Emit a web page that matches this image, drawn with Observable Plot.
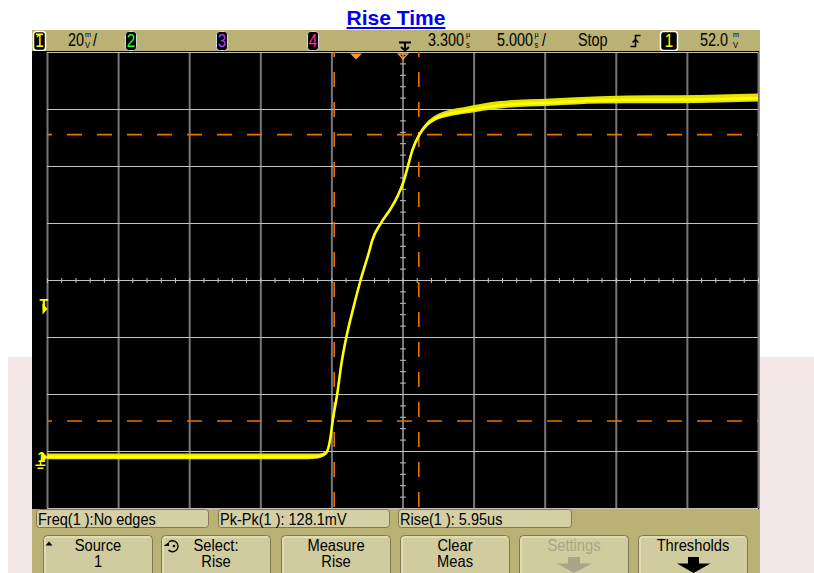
<!DOCTYPE html>
<html><head><meta charset="utf-8">
<script src="https://cdn.jsdelivr.net/npm/d3@7"></script>
<script src="https://cdn.jsdelivr.net/npm/@observablehq/plot@0.6"></script>
<style>
html,body{margin:0;padding:0;background:#fff;}
#page{position:relative;width:814px;height:573px;overflow:hidden;font-family:"Liberation Sans",Arial,sans-serif;}
#pink{position:absolute;left:8px;top:357px;width:806px;height:216px;background:#f4e8e8;}
#chrome{position:absolute;left:0;top:0;}
#plot{position:absolute;left:32px;top:51px;line-height:0;}
#title{position:absolute;left:0;width:792px;top:6px;text-align:center;font:bold 21px "Liberation Sans",Arial,sans-serif;line-height:normal;color:#0000ee;text-decoration:underline;}
</style></head>
<body><div id="page"><div id="pink"></div><svg id="chrome" width="814" height="573"></svg><div id="plot"></div><div id="title">Rise Time</div></div>
<script>
// ---- data ----
const timeUs  = [-21.7, -15, -8, -4, -2.8, -2.36, -2.08, -1.94, -1.80, -1.64, -1.33, -1.05, -0.69, -0.2, 0.31, 0.94, 1.13, 1.72, 2.42, 2.93, 3.36, 3.64, 3.95, 4.46, 4.95, 5.59, 6.64, 7.77, 10.16, 13.7, 17.2, 21, 24.2, 28.3];
const voltMv  = [0.1, 0.1, 0.1, 0.1, 0.2, 0.6, 1.65, 3.4, 6.9, 12.9, 22, 32.2, 42, 52.2, 62, 72.5, 76, 81.9, 87.1, 91.7, 97, 102, 107.6, 113.2, 116.4, 118.8, 120.6, 121.6, 123.5, 124.4, 125.2, 125.4, 125.5, 126.0];
const noiseMv = [1,1,1,1,0.9,0.7,0.4,0.3,0.2, 0.15,0.15,0.15,0.15,0.15,0.15,0.15,0.15,0.15,0.15,0.15,0.15, 0.2,0.3,0.5,0.7,0.9,1.1,1.2,1.3,1.3,1.3,1.4,1.4,1.4];
const timeDomain = [-21.7, 28.3];   // 10 div x 5 us, centre 3.300 us
const voltDomain = [-18, 142];      // 8 div x 20 mV
const timePerDiv = 5, voltPerDiv = 20;
const cursorTimes = [-1.54, 4.41];  // rise time 5.95 us
const thresholdMv = [12.7, 113.2];
const triggerTime = [0];
const delayTime = [3.3];
const triggerLevel = [52.0];
const groundLevel = [0];
const measurements = ["Freq(1 ):No edges", "Pk-Pk(1 ): 128.1mV", "Rise(1 ): 5.95us"];
const buttons = [["Source","1"],["Select:","Rise"],["Measure","Rise"],["Clear","Meas"],["Settings",""],["Thresholds",""]];

// ---- chrome ----
const C = d3.select("#chrome");
const KH = "#bab175";
function txt(x, y, s, o = {}) {
  return C.append("text")
    .attr("transform", `translate(${x},${y}) scale(${o.sx ?? 0.8},1)`)
    .attr("font-family", '"Liberation Sans", Arial, sans-serif')
    .attr("font-size", o.size ?? 16)
    .attr("fill", o.fill ?? "#000")
    .attr("text-anchor", o.anchor ?? "start")
    .text(s);
}
C.append("rect").attr("x",32).attr("y",30).attr("width",728).attr("height",543).attr("fill",KH);
function chBox(x, w, label, color, bright) {
  C.append("rect").attr("x",x+0.5).attr("y",31.5).attr("width",w).attr("height",19).attr("rx",3)
    .attr("fill","#000").attr("stroke", bright ? "#ffffff" : "#d8d8d8").attr("stroke-width", bright ? 1.5 : 1);
  txt(x + w/2 + 0.5, 47, label, {size:18, fill:color, anchor:"middle", sx:0.85});
}
chBox(33, 12, "1", "#ffff00", true);
C.append("rect").attr("x",36).attr("y",33.5).attr("width",7).attr("height",1.6).attr("fill","#ffff00");
chBox(125, 11, "2", "#22ff22", false);
chBox(216, 11, "3", "#b23cff", false);
chBox(307, 11, "4", "#ff2f86", false);
chBox(660, 17, "1", "#ffff00", true);
function unit(x, a, b) { txt(x, 37, a, {size:8, sx:0.9}); txt(x, 47.5, b, {size:8.5, sx:0.9}); }
txt(68, 46, "20", {size:18}); unit(85, "m", "V"); txt(93, 46, "/", {size:18});
txt(428, 46, "3.300", {size:18}); unit(466, "µ", "s");
txt(497, 46, "5.000", {size:18}); unit(534.5, "µ", "s"); txt(542, 46, "/", {size:18});
txt(578, 46, "Stop", {size:18});
txt(700, 46, "52.0", {size:18}); unit(733, "m", "V");
// slope symbol
C.append("path").attr("d","M630.5 46.5 H635.5 V35.5 H640.5 M632.5 42.5 L635.5 39.5 L638.5 42.5").attr("fill","none").attr("stroke","#000").attr("stroke-width",1.5);
// delay symbol
C.append("path").attr("d","M399 42.5 H411 M405 42.5 V50 M401 47 L405 50.5 L409 47").attr("fill","none").attr("stroke","#000").attr("stroke-width",2);

// measurement boxes
const mx = [[36,172],[218,171],[398,173]];
measurements.forEach((s,i) => {
  const [x,w] = mx[i];
  C.append("rect").attr("x",x+0.5).attr("y",509.5).attr("width",w).attr("height",18).attr("rx",3)
    .attr("fill","#d4cfa4").attr("stroke","#7f7a55");
  txt(x+2, 525, s, {size:16.5, sx:0.88});
});
// buttons
const bx = [43,161,281,400,519,638];
buttons.forEach(([a,b],i) => {
  const x = bx[i], w = 109;
  C.append("rect").attr("x",x+0.5).attr("y",535.5).attr("width",w).attr("height",45).attr("rx",4)
    .attr("fill","#d1cc9f").attr("stroke","#7d7754");
  C.append("path").attr("d",`M${x+2} 575 V${539} Q${x+2} 537 ${x+5} 537 H${x+w-2}`).attr("fill","none").attr("stroke","#efebcf").attr("stroke-width",1);
  const grey = a === "Settings";
  txt(x + w/2 + 0.5, 550.5, a, {size:16, sx:0.92, anchor:"middle", fill: grey ? "#a9a588" : "#000"});
  if (b) txt(x + w/2 + 0.5, 567, b, {size:16, sx:0.92, anchor:"middle"});
});
// icons in buttons
C.append("path").attr("d","M45.5 545.5 L49 541.5 L52.5 545.5 Z").attr("fill","#000");
C.append("path").attr("d","M169 542 A5.5 5.5 0 1 1 168.5 550").attr("fill","none").attr("stroke","#000").attr("stroke-width",1.4);
C.append("path").attr("d","M163.5 546 L169 542 L169 546 Z").attr("fill","#000");
C.append("circle").attr("cx",174).attr("cy",546).attr("r",1.3).attr("fill","#000");
C.append("path").attr("d","M568 557 H580 V563.5 H592 L574 573 L557 563.5 H568 Z").attr("fill","#a9a588");
C.append("path").attr("d","M688 557 H699 V563.5 H710.5 L693.5 573 L677 563.5 H688 Z").attr("fill","#000");

// ---- plot ----
const trace = timeUs.map((t,i) => ({t, v: voltMv[i], lo: voltMv[i]-noiseMv[i], hi: voltMv[i]+noiseMv[i]}));
const nx = Math.round((timeDomain[1]-timeDomain[0])/timePerDiv);
const ny = Math.round((voltDomain[1]-voltDomain[0])/voltPerDiv);
const xGrid = d3.range(nx+1).map(i => timeDomain[0] + timePerDiv*i);
const yGrid = d3.range(ny+1).map(i => voltDomain[0] + voltPerDiv*i);
const centerT = (timeDomain[0]+timeDomain[1])/2, centerV = (voltDomain[0]+voltDomain[1])/2;
const xMinor = d3.range(nx*5+1).map(i => timeDomain[0] + timePerDiv/5*i);
const yMinor = d3.range(ny*5+1).map(i => voltDomain[0] + voltPerDiv/5*i);

const vTick = {draw(c){ c.moveTo(0,-2.5); c.lineTo(0,2.5); }};
const hTick = {draw(c){ c.moveTo(-3,0); c.lineTo(3,0); }};
const triDown = {draw(c){ c.moveTo(-6,1); c.lineTo(6,1); c.lineTo(0,7); c.closePath(); }};
const triDownO = {draw(c){ c.moveTo(-4.5,1.5); c.lineTo(4.5,1.5); c.lineTo(0,6.5); c.closePath(); }};
const triRight = {draw(c){ c.moveTo(-5,-5.5); c.lineTo(0,0); c.lineTo(-5,5.5); c.closePath(); }};
const ground = {draw(c){ c.moveTo(-7,3); c.lineTo(-7,8); c.moveTo(-12,8); c.lineTo(-2,8); c.moveTo(-10,11); c.lineTo(-4,11); }};
const OR = "#e67300", YEL = "#ffff00";

const chart = Plot.plot({
  width: 727, height: 458,
  marginLeft: 15, marginRight: 1, marginTop: 1, marginBottom: 1,
  style: {background: "#000", overflow: "visible"},
  x: {domain: timeDomain, axis: null},
  y: {domain: voltDomain, axis: null},
  marks: [
    Plot.ruleX(xGrid, {stroke: "#777777", strokeWidth: 2}),
    Plot.ruleY(yGrid, {stroke: "#c2c2c2", strokeWidth: 1}),
    Plot.dot(xMinor, {x: d => d, y: () => centerV, symbol: vTick, stroke: "#c2c2c2", fill: "none", strokeWidth: 1}),
    Plot.dot(yMinor, {x: () => centerT, y: d => d, symbol: hTick, stroke: "#c2c2c2", fill: "none", strokeWidth: 1}),
    Plot.ruleX(cursorTimes, {stroke: OR, strokeWidth: 1.6, strokeDasharray: "15,15", strokeDashoffset: 10}),
    Plot.ruleY(thresholdMv, {stroke: OR, strokeWidth: 1.6, strokeDasharray: "15,15", strokeDashoffset: 10}),
    Plot.areaY(trace, {x: "t", y1: "lo", y2: "hi", fill: "#e4e400", curve: "monotone-x", clip: true}),
    Plot.line(trace, {x: "t", y: "v", stroke: YEL, strokeWidth: 2.6, curve: "monotone-x", clip: true}),
    Plot.dot(triggerTime, {x: d => d, frameAnchor: "top", symbol: triDown, fill: "#ff9a1f", stroke: "none"}),
    Plot.dot(delayTime, {x: d => d, frameAnchor: "top", symbol: triDownO, fill: "none", stroke: "#ff9a1f", strokeWidth: 1.3}),
    Plot.dot(triggerLevel, {y: d => d, frameAnchor: "left", symbol: triRight, fill: YEL, stroke: "none"}),
    Plot.text(triggerLevel, {y: d => d, frameAnchor: "left", text: () => "T", dx: -8, dy: -4, fill: YEL, fontSize: 14, fontWeight: "bold", fontFamily: "Liberation Sans, Arial, sans-serif"}),
    Plot.dot(groundLevel, {y: d => d, frameAnchor: "left", symbol: triRight, fill: YEL, stroke: "none"}),
    Plot.dot(groundLevel, {y: d => d, frameAnchor: "left", symbol: ground, fill: "none", stroke: YEL, strokeWidth: 1.4}),
    Plot.text(groundLevel, {y: d => d, frameAnchor: "left", text: () => "1", dx: -10, dy: 0, fill: YEL, fontSize: 14, fontWeight: "bold", fontFamily: "Liberation Sans, Arial, sans-serif"})
  ]
});
document.getElementById("plot").appendChild(chart);
</script>
</body></html>
